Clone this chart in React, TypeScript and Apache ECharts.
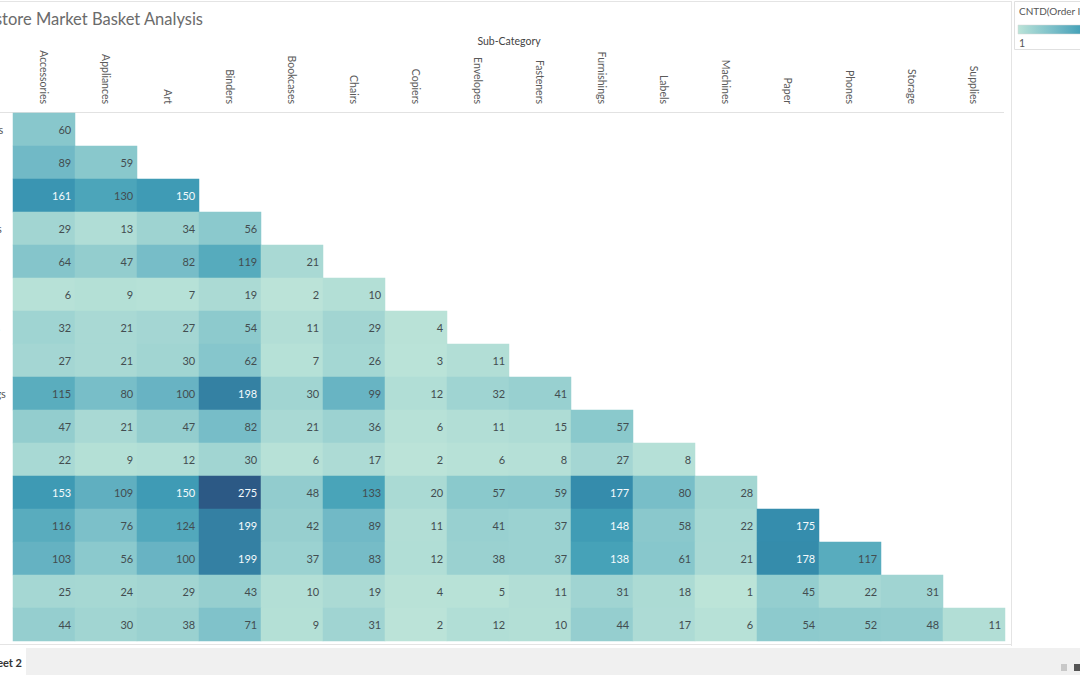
import React, { useEffect, useRef } from "react";
import * as echarts from "echarts";

const columns = [
  "Accessories", "Appliances", "Art", "Binders", "Bookcases", "Chairs", "Copiers", "Envelopes",
  "Fasteners", "Furnishings", "Labels", "Machines", "Paper", "Phones", "Storage", "Supplies",
];

const rows = [
  "Appliances", "Art", "Binders", "Bookcases", "Chairs", "Copiers", "Envelopes", "Fasteners",
  "Furnishings", "Labels", "Machines", "Paper", "Phones", "Storage", "Supplies", "Tables",
];

const rowAppliances = [60];
const rowArt = [89, 59];
const rowBinders = [161, 130, 150];
const rowBookcases = [29, 13, 34, 56];
const rowChairs = [64, 47, 82, 119, 21];
const rowCopiers = [6, 9, 7, 19, 2, 10];
const rowEnvelopes = [32, 21, 27, 54, 11, 29, 4];
const rowFasteners = [27, 21, 30, 62, 7, 26, 3, 11];
const rowFurnishings = [115, 80, 100, 198, 30, 99, 12, 32, 41];
const rowLabels = [47, 21, 47, 82, 21, 36, 6, 11, 15, 57];
const rowMachines = [22, 9, 12, 30, 6, 17, 2, 6, 8, 27, 8];
const rowPaper = [153, 109, 150, 275, 48, 133, 20, 57, 59, 177, 80, 28];
const rowPhones = [116, 76, 124, 199, 42, 89, 11, 41, 37, 148, 58, 22, 175];
const rowStorage = [103, 56, 100, 199, 37, 83, 12, 38, 37, 138, 61, 21, 178, 117];
const rowSupplies = [25, 24, 29, 43, 10, 19, 4, 5, 11, 31, 18, 1, 45, 22, 31];
const rowTables = [44, 30, 38, 71, 9, 31, 2, 12, 10, 44, 17, 6, 54, 52, 48, 11];

const rowValues = [
  rowAppliances, rowArt, rowBinders, rowBookcases, rowChairs, rowCopiers, rowEnvelopes,
  rowFasteners, rowFurnishings, rowLabels, rowMachines, rowPaper, rowPhones, rowStorage,
  rowSupplies, rowTables,
];

const valueMin = 1;
const valueMax = 275;

const palette = [
  "#bce4d8", "#aedcd5", "#a1d5d2", "#95cecf", "#89c8cc", "#7ec1ca", "#72bac6", "#66b2c2",
  "#59acbe", "#4ba5ba", "#419eb6", "#3b96b2", "#358ead", "#3586a7", "#347ea1", "#32779b",
  "#316f96", "#2f6790", "#2d608a", "#2c5985",
];

const FONT = "Lato, 'Noto Sans', sans-serif";

export default function App() {
  const ref = useRef<HTMLDivElement>(null);

  useEffect(() => {
    if (!ref.current) return;
    const chart = echarts.init(ref.current, undefined, { renderer: "svg" });

    const data = rowValues.flatMap((vals, r) =>
      vals.map((v, c) => ({
        value: [c, r, v],
        label: { color: v >= 135 ? "#f4fafc" : "#434d50" },
      }))
    );

    const gradStops = palette.map((c, i) => ({ offset: i / (palette.length - 1), color: c }));

    chart.setOption({
      animation: false,
      backgroundColor: "#ffffff",
      textStyle: { fontFamily: FONT },
      grid: { left: 13, top: 113, width: 992, height: 528, containLabel: false, outerBoundsMode: "none" },
      xAxis: {
        type: "category",
        position: "top",
        data: columns,
        axisLine: { show: false },
        axisTick: { show: false },
        splitLine: { show: false },
        axisLabel: { rotate: 90, margin: 9, fontSize: 10.5, color: "#5a5a5a", fontFamily: FONT, interval: 0 },
      },
      yAxis: {
        type: "category",
        data: rows,
        inverse: true,
        axisLine: { show: false },
        axisTick: { show: false },
        splitLine: { show: false },
        axisLabel: { align: "left", margin: 62, fontSize: 11, color: "#555", fontFamily: FONT, interval: 0 },
      },
      visualMap: {
        show: false,
        min: valueMin,
        max: valueMax,
        dimension: 2,
        seriesIndex: 0,
        inRange: { color: palette },
      },
      series: [
        {
          type: "heatmap",
          data,
          itemStyle: { borderWidth: 0 },
          emphasis: { disabled: true },
          label: {
            show: true,
            position: "insideRight",
            distance: 4,
            fontSize: 11,
            fontFamily: FONT,
            formatter: (p: any) => String(p.value[2]),
          },
        },
      ],
      graphic: [
        {
          type: "text",
          x: 203,
          y: 19,
          style: {
            text: "Superstore Market Basket Analysis",
            fontSize: 16.5,
            fontFamily: FONT,
            fill: "#6b6b6b",
            align: "right",
            verticalAlign: "middle",
          },
        },
        {
          type: "text",
          x: 509,
          y: 41,
          style: {
            text: "Sub-Category",
            fontSize: 10.5,
            fontFamily: FONT,
            fill: "#444",
            align: "center",
            verticalAlign: "middle",
          },
        },
        { type: "line", shape: { x1: 0, y1: 1.5, x2: 1011, y2: 1.5 }, style: { stroke: "#e4e4e4", lineWidth: 1 } },
        { type: "line", shape: { x1: 1011.5, y1: 1, x2: 1011.5, y2: 646 }, style: { stroke: "#e4e4e4", lineWidth: 1 } },
        { type: "line", shape: { x1: 0, y1: 112.5, x2: 1004, y2: 112.5 }, style: { stroke: "#e2e2e2", lineWidth: 1 } },
        { type: "line", shape: { x1: 0, y1: 644.5, x2: 1011, y2: 644.5 }, style: { stroke: "#e4e4e4", lineWidth: 1 } },
        {
          type: "rect",
          shape: { x: 1014.5, y: 1.5, width: 80, height: 48 },
          style: { fill: "#ffffff", stroke: "#e0e0e0", lineWidth: 1 },
        },
        {
          type: "text",
          x: 1019,
          y: 11,
          style: { text: "CNTD(Order ID)", fontSize: 10, fontFamily: FONT, fill: "#555", verticalAlign: "middle" },
        },
        {
          type: "rect",
          shape: { x: 1018, y: 25, width: 125, height: 9 },
          style: { fill: new echarts.graphic.LinearGradient(0, 0, 1, 0, gradStops), stroke: "#d6d6d6", lineWidth: 0.5 },
        },
        {
          type: "text",
          x: 1019,
          y: 43,
          style: { text: "1", fontSize: 10.5, fontFamily: FONT, fill: "#555", verticalAlign: "middle" },
        },
        { type: "rect", shape: { x: 0, y: 648, width: 1080, height: 27 }, style: { fill: "#f0f0f0" } },
        { type: "rect", shape: { x: 0, y: 648, width: 26, height: 27 }, style: { fill: "#ffffff" } },
        {
          type: "text",
          x: 22,
          y: 662,
          style: {
            text: "Sheet 2",
            fontSize: 11,
            fontWeight: "bold",
            fontFamily: FONT,
            fill: "#333",
            align: "right",
            verticalAlign: "middle",
          },
        },
        { type: "rect", shape: { x: 1061, y: 664, width: 6, height: 7 }, style: { fill: "#c8c8c8" } },
        { type: "rect", shape: { x: 1074, y: 664, width: 6, height: 7 }, style: { fill: "#555555" } },
      ],
    });

    return () => chart.dispose();
  }, []);

  return (
    <div
      ref={ref}
      style={{ position: "absolute", left: 0, top: 0, width: 1080, height: 675, overflow: "hidden" }}
    />
  );
}
